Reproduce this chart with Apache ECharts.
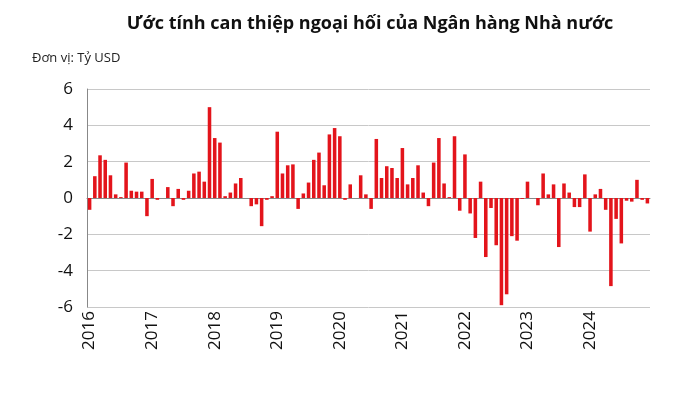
<!DOCTYPE html>
<html><head><meta charset="utf-8">
<script src="https://cdn.jsdelivr.net/npm/echarts@6/dist/echarts.min.js"></script>
<style>html,body{margin:0;padding:0;background:#fff}#c{width:680px;height:419px}</style>
</head><body><div id="c"></div>
<script>
const years = ["2016","2017","2018","2019","2020","2021","2022","2023","2024"];
const v2016 = [-0.65,1.2,2.35,2.1,1.25,0.2,0.05,1.95,0.4,0.35,0.35,-1.0];
const v2017 = [1.05,-0.1,0.0,0.6,-0.45,0.5,-0.1,0.4,1.35,1.45,0.9,5.0];
const v2018 = [3.3,3.05,0.1,0.3,0.8,1.1,0.0,-0.45,-0.35,-1.55,-0.1,0.1];
const v2019 = [3.65,1.35,1.8,1.85,-0.6,0.25,0.85,2.1,2.5,0.7,3.5,3.85];
const v2020 = [3.4,-0.1,0.75,0.0,1.25,0.2,-0.6,3.25,1.1,1.75,1.65,1.1];
const v2021 = [2.75,0.75,1.1,1.8,0.3,-0.45,1.95,3.3,0.8,0.05,3.4,-0.7];
const v2022 = [2.4,-0.85,-2.2,0.9,-3.25,-0.55,-2.6,-5.9,-5.3,-2.1,-2.35,-0.05];
const v2023 = [0.9,0.0,-0.4,1.35,0.2,0.75,-2.7,0.8,0.3,-0.5,-0.5,1.3];
const v2024 = [-1.85,0.2,0.5,-0.65,-4.85,-1.15,-2.5,-0.15,-0.2,1.0,-0.1,-0.3];
const yTicks = [-6,-4,-2,0,2,4,6];

const values = [].concat(v2016,v2017,v2018,v2019,v2020,v2021,v2022,v2023,v2024);
const cats = [];
years.forEach(y => { for (let m = 1; m <= 12; m++) cats.push(y + "-" + m); });

const chart = echarts.init(document.getElementById('c'));
const font = "'Open Sans', 'Noto Sans', sans-serif";
chart.setOption({
  animation: false,
  title: {text: "Ước tính can thiệp ngoại hối của Ngân hàng Nhà nước", left: 365, top: 10, textAlign: 'center',
    textStyle: {fontFamily: font, fontSize: 18, fontWeight: 'bold', color: '#111'}},
  graphic: [{type: 'text', left: 32, top: 52, style: {text: 'Đơn vị: Tỷ USD', font: "13px " + font, fill: '#222'}}],
  grid: {left: 87, right: 30, top: 89, bottom: 112},
  xAxis: [
    {type: 'category', data: cats, axisLine: {onZero: true, lineStyle: {color: '#888'}},
     axisTick: {interval: 11, length: 5, lineStyle: {color: '#888'}}, axisLabel: {show: false}},
    {type: 'category', data: cats, position: 'bottom', axisLine: {show: false}, axisTick: {show: false},
     axisLabel: {interval: 11, rotate: 90, fontFamily: font, fontSize: 17, color: '#111', margin: 4,
       formatter: v => v.split('-')[0]}}
  ],
  yAxis: {type: 'value', min: yTicks[0], max: yTicks[yTicks.length-1], interval: 2,
    axisLine: {show: true, lineStyle: {color: '#888'}},
    axisLabel: {fontFamily: font, fontSize: 17, color: '#111', margin: 14},
    splitLine: {lineStyle: {color: '#c8c8c8'}}},
  series: [{type: 'bar', data: values, xAxisIndex: 0, barCategoryGap: '32%', itemStyle: {color: '#e3141b'}}]
});
</script></body></html>
